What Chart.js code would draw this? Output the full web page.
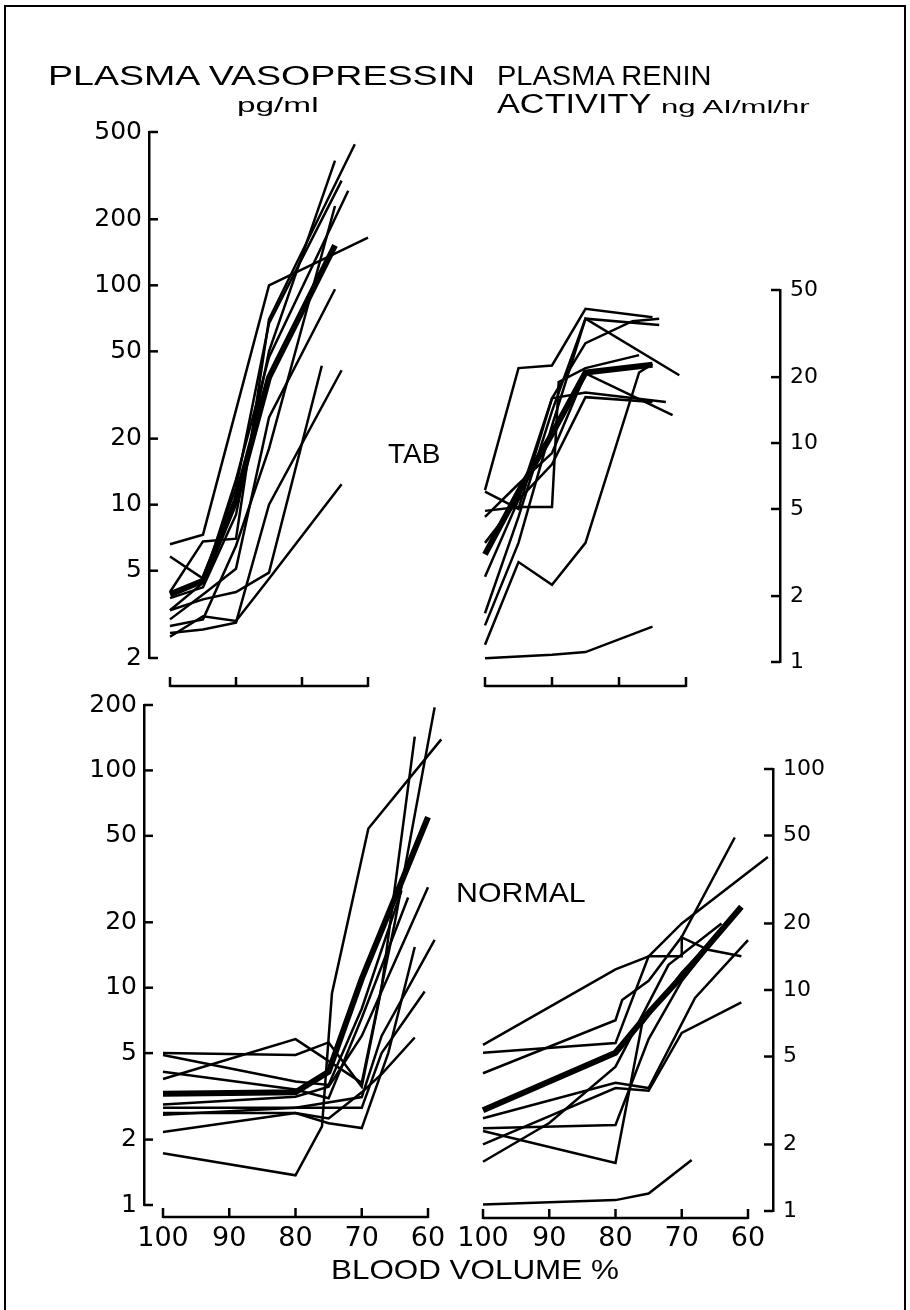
<!DOCTYPE html>
<html><head><meta charset="utf-8">
<script src="https://cdn.jsdelivr.net/npm/chart.js@4.4.1/dist/chart.umd.min.js"></script>
<style>
html,body{margin:0;padding:0;background:#fff;}
#page{position:relative;width:910px;height:1310px;overflow:hidden;font-family:"Liberation Sans",Arial,sans-serif;color:#000;background:#fff;}
#frame{position:absolute;left:4px;top:5px;width:898px;height:1330px;border:2px solid #000;border-bottom:none;}
canvas{position:absolute;left:0;top:0;}
.t{position:absolute;white-space:nowrap;line-height:1;transform-origin:0 50%;}
</style></head>
<body><div id="page">
<div id="frame"></div>
<canvas id="c1" width="910" height="1310"></canvas>
<canvas id="c2" width="910" height="1310"></canvas>
<canvas id="c3" width="910" height="1310"></canvas>
<canvas id="c4" width="910" height="1310"></canvas>
<div class="t" data-x="48" data-y="76" data-w="427" style="font-size:27px">PLASMA VASOPRESSIN</div>
<div class="t" data-x="237" data-y="104" data-w="81" style="font-size:21px">pg/ml</div>
<div class="t" data-x="497" data-y="76" data-w="215" style="font-size:27px">PLASMA RENIN</div>
<div class="t" data-x="497" data-y="104" data-w="155" style="font-size:27px">ACTIVITY</div>
<div class="t" data-x="661" data-y="106" data-w="149" style="font-size:19px">ng AI/ml/hr</div>
<div class="t" data-x="388" data-y="454" data-w="52" style="font-size:28px">TAB</div>
<div class="t" data-x="456" data-y="893" data-w="130" style="font-size:28px">NORMAL</div>
<div class="t" data-x="331" data-y="1270" data-w="288" style="font-size:28px">BLOOD VOLUME %</div>
</div>
<script>
// ---------------- data (blood volume %, value) ----------------
const volTopTicks = [100, 90, 80, 70];
const volBottomTicks = [100, 90, 80, 70, 60];
const vpTabTicks = [2, 5, 10, 20, 50, 100, 200, 500];
const reninTabTicks = [1, 2, 5, 10, 20, 50];
const vpNormTicks = [1, 2, 5, 10, 20, 50, 100, 200];
const reninNormTicks = [1, 2, 5, 10, 20, 50, 100];

// TAB – plasma vasopressin (pg/ml)
const vpTabMean = [[100,3.9],[95,4.5],[90,10.5],[85,38],[75,152]];
const vpTabSubjects = [
  [[100,6.6],[95,7.3],[85,100],[70,165]],
  [[100,5.8],[95,4.6],[90,12],[85,67],[74,300]],
  [[100,4.0],[95,6.8],[90,7.0],[85,70],[72,440]],
  [[100,3.75],[95,4.2],[90,9],[85,50],[75,370]],
  [[100,3.3],[95,4.4],[90,13],[85,47],[73,270]],
  [[100,3.0],[95,3.9],[90,5.1],[85,25],[75,96]],
  [[100,3.3],[95,3.7],[90,4.0],[85,4.9],[77,43]],
  [[100,2.6],[95,2.7],[90,2.9],[85,10],[74,41]],
  [[100,2.5],[95,3.1],[90,2.95],[85,4.6],[74,12.4]],
  [[100,2.8],[95,3.0],[90,6.5],[85,18],[75,230]]
];
// TAB – plasma renin activity (ng AI/ml/hr)
const reninTabMean = [[100,3.1],[95,6],[90,11],[85,21],[75,22.8]];
const reninTabSubjects = [
  [[100,1.04],[90,1.08],[85,1.11],[75,1.45]],
  [[100,1.2],[95,2.86],[90,2.25],[85,3.5],[77,21],[75,23]],
  [[100,6.1],[95,22],[90,22.6],[85,41],[75,37.5]],
  [[100,4.9],[95,5.1],[90,5.1],[89,19],[85,22],[77,25.2]],
  [[100,1.47],[95,3.5],[90,12],[85,37],[71,20.4]],
  [[100,1.67],[95,4.6],[90,14],[85,37],[74,34.6]],
  [[100,2.45],[95,5.5],[90,16],[85,17],[73,15.4]],
  [[100,4.6],[95,6.5],[90,9],[85,20.8],[72,13.4]],
  [[100,6],[95,5],[90,16],[85,28.6],[78,36],[74,37]],
  [[100,3.5],[95,5.5],[90,8],[85,16.2],[75,15.4]]
];
// NORMAL – plasma vasopressin
const vpNormMean = [[100,3.25],[80,3.3],[75,4.1],[70,11],[60,61]];
const vpNormSubjects = [
  [[100,1.73],[80,1.37],[76,2.3],[74.5,9.4],[69,54],[58,139]],
  [[100,5.0],[80,4.9],[75,5.6],[70,3.5],[67,10],[62,143]],
  [[100,3.8],[80,5.8],[70,3.65],[65,20],[59,195]],
  [[100,4.9],[80,3.7],[75,3.57],[70,8],[64,28]],
  [[100,4.1],[80,3.4],[75,3.1],[70,7.25],[63,26]],
  [[100,2.9],[80,3.15],[75,3.5],[70,6],[60,29]],
  [[100,2.8],[80,2.8],[70,3.14],[67,6],[59,16.6]],
  [[100,2.65],[80,2.65],[75,2.38],[70,2.26],[66,5],[62,15.4]],
  [[100,2.6],[80,2.8],[70,2.8],[67,5],[60.5,9.6]],
  [[100,2.17],[80,2.65],[75,2.5],[70,3.3],[67,4],[62,5.9]]
];
// NORMAL – plasma renin activity
const reninNormMean = [[100,2.86],[80,5.2],[75,7.9],[70,11.5],[61,23.8]];
const reninNormSubjects = [
  [[100,5.65],[80,12.4],[75,14.2],[70,20],[57,40]],
  [[100,5.2],[80,5.75],[75,14.2],[70,14.2],[70,17.3],[66,15.2],[61,14.2]],
  [[100,4.2],[80,7.3],[79,9],[75,11],[70,17.4],[62,49]],
  [[100,2.63],[80,3.8],[75,3.6],[68,9.2],[60,16.8]],
  [[100,2.37],[80,2.45],[75,6],[70,11],[62,22]],
  [[100,1.67],[90,2.5],[80,4.5],[72,13],[64,20]],
  [[100,2.3],[80,1.65],[76,7],[70,12],[63,20]],
  [[100,2.0],[80,3.6],[75,3.5],[70,6.4],[61,8.8]],
  [[100,1.07],[80,1.12],[75,1.2],[68.5,1.7]]
];

// ---------------- layout ----------------
const FONT = '"DejaVu Sans", sans-serif';
const W = 70, XH = 50, CW = 910, CH = 1310;
const panels = [
  {id:'c1', mean:vpTabMean, subj:vpTabSubjects, yTicks:vpTabTicks, xTicks:volTopTicks, side:'left',
   axisX:149, yTop:132, yBot:658, x100:170, ppu:6.6, edge:400, bracketY:686, showX:false, lf:25},
  {id:'c2', mean:reninTabMean, subj:reninTabSubjects, yTicks:reninTabTicks, xTicks:volTopTicks, side:'right',
   axisX:780, yTop:290, yBot:662, x100:485, ppu:6.7, edge:465, bracketY:686, showX:false, lf:22},
  {id:'c3', mean:vpNormMean, subj:vpNormSubjects, yTicks:vpNormTicks, xTicks:volBottomTicks, side:'left',
   axisX:144, yTop:705, yBot:1205, x100:163, ppu:6.625, edge:450, bracketY:1217, showX:true, xpad:18, lf:25},
  {id:'c4', mean:reninNormMean, subj:reninNormSubjects, yTicks:reninNormTicks, xTicks:volBottomTicks, side:'right',
   axisX:773, yTop:769, yBot:1211, x100:483, ppu:6.625, edge:465, bracketY:1218, showX:true, xpad:12, lf:22}
];

const decor = {
  id: 'decor',
  afterDraw(chart, args, o) {
    const ctx = chart.ctx, xs = chart.scales.x, ys = chart.scales.y, ca = chart.chartArea;
    ctx.save();
    ctx.strokeStyle = '#000'; ctx.lineWidth = 2.5; ctx.lineCap = 'butt';
    const ax = o.side === 'left' ? ca.left : ca.right;
    const dir = o.side === 'left' ? 1 : -1;
    ys.ticks.forEach(t => {
      const y = ys.getPixelForValue(t.value);
      ctx.beginPath(); ctx.moveTo(ax, y); ctx.lineTo(ax + dir * 9, y); ctx.stroke();
    });
    const xt = o.xTicks, by = o.bracketY;
    const x0 = xs.getPixelForValue(xt[0]), x1 = xs.getPixelForValue(xt[xt.length - 1]);
    ctx.beginPath(); ctx.moveTo(x0, by); ctx.lineTo(x1, by); ctx.stroke();
    xt.forEach(v => {
      const x = xs.getPixelForValue(v);
      ctx.beginPath(); ctx.moveTo(x, by + 1); ctx.lineTo(x, by - 9); ctx.stroke();
    });
    ctx.restore();
  }
};

panels.forEach(p => {
  let left, right, pad;
  if (p.side === 'left') { left = p.axisX; right = p.edge; pad = {left: left - W, right: CW - right}; }
  else { left = p.edge; right = p.axisX; pad = {left: left, right: CW - right - W}; }
  pad.top = p.yTop;
  pad.bottom = CH - p.yBot - (p.showX ? XH : 0);
  const xmax = 100 + (p.x100 - left) / p.ppu;
  const xmin = 100 - (right - p.x100) / p.ppu;
  const mk = (arr, thick) => ({
    data: arr.map(([x, y]) => ({x, y})),
    borderColor: '#000', borderWidth: thick ? 6 : 2.5, pointRadius: 0,
    tension: 0, fill: false, clip: false, borderJoinStyle: 'miter'
  });
  const datasets = p.subj.map(s => mk(s, false));
  datasets.push(mk(p.mean, true));
  new Chart(document.getElementById(p.id), {
    type: 'line',
    data: {datasets},
    options: {
      responsive: false, animation: false, devicePixelRatio: 1,
      layout: {padding: pad},
      plugins: {legend: {display: false}, tooltip: {enabled: false},
        decor: {side: p.side, xTicks: p.xTicks, bracketY: p.bracketY}},
      scales: {
        x: {type: 'linear', reverse: true, min: xmin, max: xmax, display: p.showX,
          afterBuildTicks: s => { s.ticks = p.xTicks.map(v => ({value: v})); },
          afterFit: s => { s.height = p.showX ? XH : 0; },
          grid: {display: false, drawTicks: false}, border: {display: false},
          ticks: {font: {family: FONT, size: 27}, color: '#000', padding: p.xpad || 10,
            autoSkip: false, maxRotation: 0, callback: v => String(v)}},
        y: {type: 'logarithmic', position: p.side, min: p.yTicks[0], max: p.yTicks[p.yTicks.length - 1],
          afterBuildTicks: s => { s.ticks = p.yTicks.map(v => ({value: v})); },
          afterFit: s => { s.width = W; },
          grid: {display: false, drawTicks: false}, border: {display: true, color: '#000', width: 2.5},
          ticks: {font: {family: FONT, size: p.lf}, color: '#000', padding: p.side === 'left' ? 7 : 10,
            autoSkip: false, callback: v => String(v)}}
      }
    },
    plugins: [decor]
  });
});

// place and fit text labels
document.querySelectorAll('.t').forEach(el => {
  const w = el.offsetWidth, h = el.offsetHeight;
  const tw = +el.dataset.w;
  el.style.left = el.dataset.x + 'px';
  el.style.top = (el.dataset.y - h / 2) + 'px';
  el.style.transform = 'scaleX(' + (tw / w).toFixed(3) + ')';
});
</script>
</body></html>
